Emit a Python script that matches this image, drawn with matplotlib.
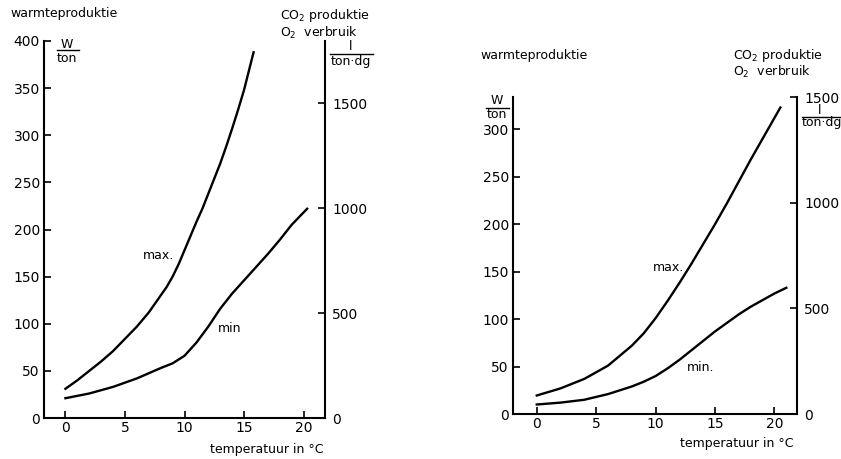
import numpy as np
import matplotlib.pyplot as plt
from matplotlib.lines import Line2D

W, H = 841, 459
FACTOR = 4.49  # W/ton -> l/(ton.dg)

# left panel
temp_max_a = [0, 1, 2, 3, 4, 5, 6, 7, 8, 8.5, 9, 9.5, 10, 10.5, 11, 11.5, 12, 12.5, 13, 13.5, 14, 14.5, 15, 15.8]
heat_max_a = [31, 40, 50, 60, 71, 84, 97, 112, 130, 139, 150, 163, 178, 193, 208, 222, 238, 254, 270, 288, 307, 327, 348, 388]
temp_min_a = [0, 2, 4, 6, 8, 9, 10, 11, 12, 13, 14, 15, 16, 17, 18, 19, 20.3]
heat_min_a = [21, 26, 33, 42, 53, 58, 66, 80, 97, 116, 132, 146, 160, 174, 189, 205, 222]

# right panel
temp_max_b = [0, 2, 4, 6, 8, 9, 10, 11, 12, 13, 14, 15, 16, 17, 18, 19, 20, 20.5]
heat_max_b = [19.5, 27, 37, 51, 72, 85, 101, 119, 138, 158, 179, 200, 222, 245, 268, 290, 312, 323]
temp_min_b = [0, 2, 4, 6, 8, 9, 10, 11, 12, 13, 14, 15, 16, 17, 18, 19, 20, 21]
heat_min_b = [10, 12, 15, 21, 29, 34, 40, 48, 57, 67, 77, 87, 96, 105, 113, 120, 127, 133]

x_ticks = [0, 5, 10, 15, 20]
heat_ticks_a = [0, 50, 100, 150, 200, 250, 300, 350, 400]
heat_ticks_b = [0, 50, 100, 150, 200, 250, 300]
gas_ticks = [0, 500, 1000, 1500]

plt.rcParams['font.family'] = 'DejaVu Sans'
fig = plt.figure(figsize=(W / 100, H / 100), dpi=100)


def fx(px):
    return px / W


def fy(py):
    return 1 - py / H


def panel(rect, xlim, ytop, t_max, h_max, t_min, h_min, hticks, lab_max, lab_min, tmin_text):
    ax = fig.add_axes(rect)
    ax.plot(t_max, h_max, color='k', lw=1.7)
    ax.plot(t_min, h_min, color='k', lw=1.7)
    ax.set_xlim(*xlim)
    ax.set_ylim(0, ytop)
    ax.set_xticks(x_ticks)
    ax.set_yticks(hticks)
    ax.spines['top'].set_visible(False)
    ax.spines['right'].set_visible(False)
    for s in ('left', 'bottom'):
        ax.spines[s].set_linewidth(1.5)
    ax.tick_params(direction='in', length=5, width=1.2, labelsize=10, pad=3)
    ax.tick_params(axis='x', pad=2.5)
    ax.text(lab_max[0], lab_max[1], 'max.', fontsize=9, ha='center', va='center')
    ax.text(lab_min[0], lab_min[1], tmin_text, fontsize=9, ha='center', va='center')

    ax2 = ax.twinx()
    ax2.set_ylim(0, ytop * FACTOR)
    ax2.set_yticks(gas_ticks)
    for s in ('top', 'left', 'bottom'):
        ax2.spines[s].set_visible(False)
    ax2.spines['right'].set_linewidth(1.5)
    ax2.tick_params(direction='in', length=5, width=1.2, labelsize=10, pad=5)
    return ax, ax2


def frac(xc, y_top, y_line, y_bot, top, bot, x0, x1, ha='center'):
    fig.text(fx(xc), fy(y_top), top, fontsize=9, ha=ha, va='center')
    fig.text(fx(xc), fy(y_bot), bot, fontsize=9, ha=ha, va='center')
    fig.add_artist(Line2D([fx(x0), fx(x1)], [fy(y_line), fy(y_line)], color='k', lw=1))


# left panel: axes x 44..325 px, y 41..418 px
panel([fx(44), fy(418), fx(325) - fx(44), fy(41) - fy(418)], (-1.8, 21.8), 400,
      temp_max_a, heat_max_a, temp_min_a, heat_min_a, heat_ticks_a,
      (7.8, 172), (13.8, 95), 'min')
fig.text(fx(10), fy(13), 'warmteproduktie', fontsize=9, va='center')
fig.text(fx(280), fy(15), 'CO$_2$ produktie', fontsize=9, va='center')
fig.text(fx(280), fy(33), 'O$_2$  verbruik', fontsize=9, va='center')
frac(67, 45, 50, 59, 'W', 'ton', 57, 79)
frac(351, 47, 54, 62, 'l', 'ton·dg', 330, 373)
fig.text(fx(323), fy(449), 'temperatuur in °C', fontsize=9, ha='right', va='center')

# right panel: axes x 513..797 px, y 97..414 px
panel([fx(513), fy(414), fx(797) - fx(513), fy(97) - fy(414)], (-2.0, 21.9), 1500 / FACTOR,
      temp_max_b, heat_max_b, temp_min_b, heat_min_b, heat_ticks_b,
      (11.1, 154), (13.8, 49.5), 'min.')
fig.text(fx(480), fy(55), 'warmteproduktie', fontsize=9, va='center')
fig.text(fx(733), fy(55), 'CO$_2$ produktie', fontsize=9, va='center')
fig.text(fx(733), fy(72), 'O$_2$  verbruik', fontsize=9, va='center')
frac(497, 101, 108, 115, 'W', 'ton', 486, 509)
fig.text(fx(820), fy(111), 'l', fontsize=9, ha='center', va='center')
fig.text(fx(802), fy(123), 'ton·dg', fontsize=9, ha='left', va='center')
fig.add_artist(Line2D([fx(802), fx(841)], [fy(117), fy(117)], color='k', lw=1))
fig.text(fx(793), fy(443), 'temperatuur in °C', fontsize=9, ha='right', va='center')

fig.savefig('out.png', dpi=100)
